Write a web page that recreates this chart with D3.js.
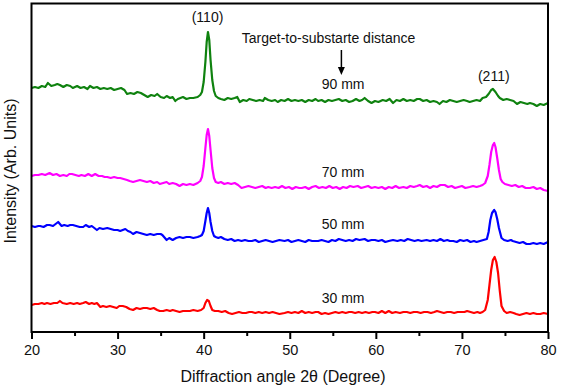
<!DOCTYPE html>
<html>
<head>
<meta charset="utf-8">
<script src="https://cdn.jsdelivr.net/npm/d3@7"></script>
<style>
  body { margin: 0; background: #fff; }
  svg { display: block; font-family: "Liberation Sans", Arial, sans-serif; }
</style>
</head>
<body>
<svg id="vis" width="561" height="388"></svg>
<script>
// XRD patterns, [2theta, intensity (arb.)]
var curve90 = [[20.0,244],[20.4,245],[20.8,244],[21.2,246],[21.6,245],[21.9,249],[22.3,246],[22.7,247],[23.0,248],[23.3,247],[23.7,245],[24.1,247],[24.5,246],[24.8,244],[25.3,246],[25.7,244],[26.1,245],[26.5,243],[26.8,246],[27.2,244],[27.6,245],[28.0,243],[28.4,244],[28.8,243],[29.2,244],[29.6,242],[30.0,243],[30.4,244],[30.8,242],[31.1,238],[31.5,239],[31.9,238],[32.3,240],[32.7,239],[33.1,237],[33.5,235],[33.9,237],[34.3,236],[34.6,238],[35.0,235],[35.4,234],[35.7,236],[36.1,234],[36.4,235],[36.7,231],[37.0,233],[37.3,234],[37.6,235],[38.0,233],[38.4,234],[38.8,234],[39.3,235],[39.6,237],[39.8,240],[40.0,250],[40.2,270],[40.35,290],[40.5,300],[40.65,292],[40.8,272],[41.0,252],[41.2,241],[41.4,236],[41.7,234],[42.0,233],[42.4,232],[42.8,234],[43.2,233],[43.6,234],[43.9,235],[44.2,230],[44.6,232],[45.0,231],[45.3,233],[45.7,232],[46.1,231],[46.5,232],[46.9,231],[47.1,234],[47.5,232],[47.9,231],[48.3,232],[48.6,230],[49.0,232],[49.4,231],[49.8,233],[50.2,231],[50.6,232],[51.0,231],[51.4,232],[51.8,230],[52.2,232],[52.6,231],[53.0,233],[53.3,231],[53.7,232],[54.1,230],[54.5,232],[54.9,231],[55.3,232],[55.7,233],[56.1,231],[56.5,232],[56.9,230],[57.3,231],[57.7,233],[58.1,231],[58.4,232],[58.7,234],[59.1,231],[59.5,229],[59.9,231],[60.3,230],[60.8,232],[61.2,231],[61.6,233],[62.0,229],[62.4,232],[62.8,231],[63.2,233],[63.6,231],[64.0,232],[64.4,231],[64.8,233],[65.1,233],[65.5,231],[65.9,232],[66.3,230],[66.7,231],[67.1,230],[67.4,228],[67.8,231],[68.2,230],[68.6,232],[69.0,231],[69.4,230],[69.8,231],[70.2,232],[70.6,231],[70.9,230],[71.3,231],[71.7,232],[72.1,231],[72.4,234],[72.8,235],[73.1,238],[73.4,242],[73.6,243],[73.9,240],[74.2,236],[74.4,234],[74.8,232],[75.2,233],[75.6,232],[76.0,231],[76.4,228],[76.8,230],[77.2,229],[77.6,228],[77.9,229],[78.3,228],[78.7,226],[79.1,228],[79.5,227],[80.0,229]];

var curve70 = [[20.0,156],[20.4,157],[20.8,157],[21.2,158],[21.6,157],[22.1,159],[22.5,157],[22.9,158],[23.3,156],[23.7,157],[24.1,156],[24.4,158],[24.7,158],[25.1,157],[25.5,156],[25.8,157],[26.2,156],[26.6,158],[27.0,156],[27.4,158],[27.8,156],[28.2,156],[28.5,155],[28.8,155],[29.2,154],[29.6,155],[30.0,154],[30.3,154],[30.7,153],[31.1,152],[31.4,151],[31.8,150],[32.2,151],[32.6,152],[33.0,151],[33.4,150],[33.8,151],[34.2,149],[34.6,150],[34.9,148],[35.3,149],[35.7,150],[36.0,148],[36.4,149],[36.8,148],[37.2,146],[37.6,148],[38.0,147],[38.4,148],[38.8,147],[39.3,149],[39.6,151],[39.8,155],[40.0,166],[40.2,184],[40.35,197],[40.5,203],[40.65,196],[40.8,182],[41.0,164],[41.2,154],[41.4,150],[41.7,149],[42.0,150],[42.4,148],[42.8,149],[43.2,148],[43.6,149],[44.0,147],[44.4,144],[44.8,145],[45.2,146],[45.6,145],[46.0,144],[46.4,145],[46.8,146],[47.2,144],[47.5,145],[47.9,144],[48.3,145],[48.7,144],[49.1,146],[49.5,144],[49.9,145],[50.3,143],[50.7,145],[51.1,144],[51.4,144],[51.8,145],[52.2,143],[52.6,145],[53.0,146],[53.4,144],[53.8,145],[54.2,144],[54.6,146],[55.0,144],[55.4,145],[55.8,143],[56.2,145],[56.6,144],[57.0,146],[57.4,145],[57.9,146],[58.3,144],[58.7,145],[59.1,146],[59.5,144],[59.9,145],[60.3,144],[60.7,145],[61.1,143],[61.5,145],[61.9,144],[62.3,146],[62.7,144],[63.2,145],[63.6,144],[64.0,146],[64.4,145],[64.8,146],[65.1,147],[65.5,145],[65.9,146],[66.3,144],[66.7,146],[67.1,145],[67.5,147],[68.0,147],[68.4,145],[68.8,146],[69.2,144],[69.6,145],[70.0,146],[70.4,144],[70.9,145],[71.3,146],[71.7,145],[72.1,146],[72.4,147],[72.7,149],[73.0,156],[73.2,167],[73.4,180],[73.6,187],[73.75,189],[73.9,185],[74.1,174],[74.3,162],[74.5,153],[74.7,150],[75.0,148],[75.4,147],[75.8,146],[76.2,147],[76.6,145],[77.0,146],[77.4,144],[77.9,144],[78.3,145],[78.7,143],[79.1,144],[79.5,142],[80.0,141]];

var curve50 = [[20.0,106],[20.4,105],[20.8,106],[21.0,106],[21.4,105],[21.8,107],[22.1,107],[22.5,106],[22.8,108],[23.1,110],[23.5,106],[23.8,107],[24.2,106],[24.5,107],[24.8,107],[25.2,106],[25.6,105],[26.0,105],[26.3,107],[26.7,105],[27.0,106],[27.3,104],[27.6,102],[27.9,104],[28.3,103],[28.8,104],[29.2,103],[29.6,102],[30.0,102],[30.3,101],[30.6,102],[30.9,103],[31.2,101],[31.5,100],[31.8,98],[32.2,100],[32.6,99],[33.0,98],[33.4,97],[33.8,98],[34.2,97],[34.6,98],[35.0,98],[35.2,97],[35.5,94],[35.7,92],[36.0,94],[36.4,92],[36.8,94],[37.2,95],[37.6,94],[38.0,95],[38.4,95],[38.8,94],[39.3,95],[39.6,96],[39.8,97],[40.0,101],[40.2,111],[40.35,119],[40.5,124],[40.65,119],[40.8,110],[41.0,101],[41.2,96],[41.4,95],[41.7,94],[42.0,95],[42.4,93],[42.8,92],[43.2,93],[43.6,91],[44.0,92],[44.4,91],[44.8,92],[45.2,91],[45.6,91],[46.0,92],[46.4,90],[46.8,91],[47.2,92],[47.6,91],[48.0,90],[48.4,91],[48.8,92],[49.4,91],[49.8,92],[50.2,90],[50.6,91],[51.0,92],[51.4,91],[51.8,90],[52.2,92],[52.6,91],[53.3,91],[53.7,92],[54.1,91],[54.5,90],[54.9,92],[55.3,91],[55.7,93],[56.1,92],[56.5,91],[56.9,92],[57.3,91],[57.7,93],[58.1,92],[58.7,93],[59.1,91],[59.5,92],[59.9,92],[60.3,91],[60.7,92],[61.1,90],[61.5,91],[62.0,92],[62.5,91],[62.9,92],[63.3,91],[63.7,93],[64.1,92],[64.5,91],[64.9,92],[65.3,91],[65.9,92],[66.3,91],[66.7,92],[67.1,91],[67.5,93],[67.9,91],[68.3,92],[68.6,91],[69.0,91],[69.4,90],[69.8,92],[70.2,91],[70.6,92],[71.0,90],[71.4,91],[71.7,90],[72.1,91],[72.5,92],[72.9,93],[73.1,100],[73.3,112],[73.5,119],[73.75,122],[73.9,120],[74.1,113],[74.3,104],[74.6,94],[74.9,92],[75.3,91],[75.7,92],[75.9,91],[76.3,90],[76.7,89],[77.1,90],[77.5,88],[77.9,88],[78.3,89],[78.7,88],[79.1,89],[79.5,88],[80.0,90]];

var curve30 = [[20.0,27],[20.4,28],[20.8,28],[21.2,29],[21.5,28],[21.8,29],[22.2,28],[22.6,29],[23.0,29],[23.3,31],[23.6,29],[24.1,28],[24.5,29],[24.9,28],[25.3,29],[25.6,28],[26.0,29],[26.3,30],[26.7,28],[27.0,29],[27.3,28],[27.6,29],[28.0,25],[28.3,26],[28.7,25],[29.1,26],[29.5,25],[29.9,24],[30.2,26],[30.6,26],[31.0,25],[31.4,23],[31.8,22],[32.2,24],[32.6,23],[33.0,24],[33.4,24],[33.8,23],[34.2,24],[34.6,22],[34.9,21],[35.3,21],[35.7,22],[36.1,21],[36.4,22],[36.8,21],[37.2,20],[37.6,21],[38.0,21],[38.4,21],[38.8,22],[39.3,21],[39.7,22],[40.0,24],[40.2,29],[40.4,32],[40.6,31],[40.8,26],[41.0,22],[41.3,21],[41.7,21],[42.1,20],[42.5,21],[42.9,19],[43.3,18],[43.7,19],[44.1,20],[44.5,19],[44.9,19],[45.3,20],[45.6,20],[46.0,19],[46.4,20],[46.8,19],[47.2,20],[47.6,19],[48.0,20],[48.4,19],[48.8,18],[49.4,19],[49.8,20],[50.2,19],[50.6,20],[51.0,19],[51.4,21],[51.8,19],[52.2,20],[52.6,19],[53.0,20],[53.3,20],[53.7,18],[54.1,19],[54.5,18],[54.9,19],[55.3,20],[55.7,19],[56.1,20],[56.5,19],[56.9,20],[57.2,20],[57.6,19],[58.0,20],[58.4,19],[58.8,20],[59.2,19],[59.6,20],[59.9,20],[60.3,19],[60.7,21],[61.1,19],[61.5,21],[61.9,19],[62.3,20],[62.8,19],[63.2,20],[63.6,20],[64.0,19],[64.4,20],[64.8,20],[65.2,19],[65.6,20],[66.0,20],[66.4,19],[66.8,20],[67.1,21],[67.5,20],[67.9,19],[68.3,20],[68.7,20],[69.1,19],[69.5,20],[69.9,20],[70.3,20],[70.6,21],[71.0,20],[71.4,19],[71.8,20],[72.1,19],[72.4,20],[72.7,22],[73.0,32],[73.2,47],[73.4,62],[73.6,72],[73.8,75],[74.0,70],[74.2,59],[74.4,41],[74.6,26],[74.9,21],[75.2,19],[75.6,20],[76.0,19],[76.3,18],[76.7,17],[77.1,18],[77.5,19],[77.9,18],[78.3,19],[78.7,18],[79.1,18],[79.5,19],[80.0,18]];

var seriesNames = ['90 mm', '70 mm', '50 mm', '30 mm'];
var seriesColors = ['#0f820f', '#ff00ff', '#0000ff', '#ff0000'];
var seriesData = [curve90, curve70, curve50, curve30];

var majorTicks = [20, 30, 40, 50, 60, 70, 80];
var minorTicks = [25, 35, 45, 55, 65, 75];

// annotations: [2theta, intensity, text]
var seriesLabels = [[56.2, 243, '90 mm'], [56.2, 155, '70 mm'], [56.2, 103, '50 mm'], [56.2, 29, '30 mm']];
var peakLabels = [[40.45, 310, '(110)'], [73.7, 251, '(211)']];
var noteLabel = [54.5, 289, 'Target-to-substarte distance'];
var noteArrow = [56.0, 282, 257];

var svg = d3.select('#vis');
var margin = {left: 31.5, right: 13, top: 3.5, bottom: 56};
var width = 561, height = 388;

var x = d3.scaleLinear().domain([20, 80]).range([margin.left, width - margin.right]);
var y = d3.scaleLinear().domain([0, 328.5]).range([height - margin.bottom, margin.top]);

var line = d3.line()
    .x(function(d){ return x(d[0]); })
    .y(function(d){ return y(d[1]); });

// curves
svg.selectAll('.curve')
    .data(seriesData)
    .enter()
    .append('path')
    .attr('class', 'curve')
    .attr('fill', 'none')
    .attr('stroke', function(d, i){ return seriesColors[i]; })
    .attr('stroke-width', 2.2)
    .attr('stroke-linejoin', 'round')
    .attr('d', line);

// x axis, major + minor ticks (outward)
var xAxis = svg.append('g')
    .attr('transform', 'translate(0,' + y(0) + ')')
    .call(d3.axisBottom(x).tickValues(majorTicks).tickSize(7).tickSizeOuter(0).tickPadding(6));
xAxis.select('.domain').remove();
xAxis.selectAll('line').attr('stroke', '#000').attr('stroke-width', 2);
xAxis.selectAll('text')
    .attr('fill', '#111')
    .style('font-size', '14.5px');

var xMinor = svg.append('g')
    .attr('transform', 'translate(0,' + y(0) + ')')
    .call(d3.axisBottom(x).tickValues(minorTicks).tickSize(4).tickFormat(''));
xMinor.select('.domain').remove();
xMinor.selectAll('line').attr('stroke', '#000').attr('stroke-width', 2);

// frame
svg.append('rect')
    .attr('x', x(20))
    .attr('y', y(328.5))
    .attr('width', x(80) - x(20))
    .attr('height', y(0) - y(328.5))
    .attr('fill', 'none')
    .attr('stroke', '#000')
    .attr('stroke-width', 2);

// axis titles
svg.append('text')
    .attr('x', 283)
    .attr('y', 382)
    .attr('text-anchor', 'middle')
    .attr('fill', '#111')
    .style('font-size', '16px')
    .text('Diffraction angle 2θ (Degree)');

svg.append('text')
    .attr('transform', 'translate(15.5,171) rotate(-90)')
    .attr('text-anchor', 'middle')
    .attr('fill', '#111')
    .style('font-size', '16px')
    .text('Intensity (Arb. Units)');

// labels
var labels = seriesLabels.concat(peakLabels).concat([noteLabel]);
svg.selectAll('.lbl')
    .data(labels)
    .enter()
    .append('text')
    .attr('class', 'lbl')
    .attr('x', function(d){ return x(d[0]); })
    .attr('y', function(d){ return y(d[1]); })
    .attr('text-anchor', 'middle')
    .attr('fill', '#111')
    .style('font-size', '14px')
    .text(function(d){ return d[2]; });

// arrow
var ax = x(noteArrow[0]), ay1 = y(noteArrow[1]), ay2 = y(noteArrow[2]);
svg.append('line')
    .attr('x1', ax).attr('x2', ax)
    .attr('y1', ay1).attr('y2', ay2 - 6)
    .attr('stroke', '#000')
    .attr('stroke-width', 1.5);
svg.append('path')
    .attr('d', 'M' + (ax - 3.5) + ',' + (ay2 - 8) + 'L' + (ax + 3.5) + ',' + (ay2 - 8) + 'L' + ax + ',' + ay2 + 'Z')
    .attr('fill', '#000');
</script>
</body>
</html>
